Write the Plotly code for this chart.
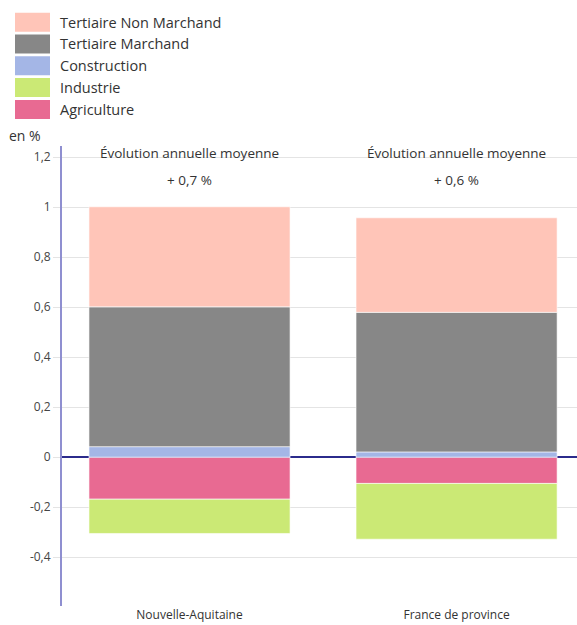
import plotly.graph_objects as go

# Contribution des secteurs à l'évolution annuelle moyenne de l'emploi (en %)
territoires = ["Nouvelle-Aquitaine", "France de province"]

# Ordre des traces : négatifs empilés depuis 0 (Agriculture puis Industrie),
# positifs empilés depuis 0 (Construction, Tertiaire Marchand, Tertiaire Non Marchand)
secteurs = ["Agriculture", "Industrie", "Construction", "Tertiaire Marchand", "Tertiaire Non Marchand"]
agriculture = [-0.168, -0.105]
industrie = [-0.137, -0.223]
construction = [0.042, 0.021]
tertiaire_marchand = [0.559, 0.558]
tertiaire_non_marchand = [0.400, 0.378]
couleurs = ["#e86a92", "#cbe975", "#a4b6e6", "#878787", "#ffc5b8"]

tick_vals = [-0.4, -0.2, 0, 0.2, 0.4, 0.6, 0.8, 1, 1.2]
tick_text = ["-0,4", "-0,2", "0", "0,2", "0,4", "0,6", "0,8", "1", "1,2"]

valeurs = [agriculture, industrie, construction, tertiaire_marchand, tertiaire_non_marchand]

FONT = "Open Sans"
TXT = "#333333"

fig = go.Figure()
for nom, vals, col in zip(secteurs, valeurs, couleurs):
    fig.add_trace(go.Bar(
        x=territoires, y=vals, name=nom,
        marker=dict(color=col, line=dict(color="rgba(255,255,255,0.6)", width=1)),
        showlegend=False,
    ))

# Évolution annuelle moyenne = somme des contributions
annotations = []
for i, terr in enumerate(territoires):
    total = sum(v[i] for v in valeurs)
    annotations.append(dict(x=terr, y=1.218, xref="x", yref="y", text="Évolution annuelle moyenne",
                            showarrow=False, font=dict(family=FONT, size=13.5, color=TXT)))
    annotations.append(dict(x=terr, y=1.11, xref="x", yref="y",
                            text="+ " + f"{total:.1f}".replace(".", ",") + " %",
                            showarrow=False, font=dict(family=FONT, size=13.5, color=TXT)))

# Légende dessinée à la main (grands carrés de couleur), dans la marge haute
L, R, T, B = 62, 577, 146, 606
def px(xp):
    return (xp - L) / (R - L)
def py(yp):
    return (B - yp) / (B - T)

shapes = []
ordre_legende = list(range(len(secteurs)))[::-1]
for k, idx in enumerate(ordre_legende):
    top = 12.7 + k * 21.8
    shapes.append(dict(type="rect", xref="paper", yref="paper",
                       x0=px(15), x1=px(50), y0=py(top + 19), y1=py(top),
                       fillcolor=couleurs[idx], line=dict(width=0)))
    annotations.append(dict(xref="paper", yref="paper", x=px(58), y=py(top + 9.5),
                            xanchor="left", yanchor="middle", text=secteurs[idx], showarrow=False,
                            font=dict(family=FONT, size=14.5, color=TXT)))

annotations.append(dict(xref="paper", yref="paper", x=px(7), y=py(135), xanchor="left",
                        yanchor="middle", text="en %", showarrow=False,
                        font=dict(family=FONT, size=14, color=TXT)))

fig.update_layout(
    width=577, height=625,
    margin=dict(l=L, r=577 - R, t=T, b=625 - B),
    barmode="relative", bargap=0.247,
    plot_bgcolor="white", paper_bgcolor="white",
    font=dict(family=FONT, color=TXT),
    shapes=shapes, annotations=annotations,
    xaxis=dict(range=[-0.4775, 1.451], showgrid=False, showline=False, ticks="",
               tickfont=dict(family=FONT, size=12, color=TXT)),
    yaxis=dict(range=[-0.595, 1.244], tickvals=tick_vals, ticktext=tick_text,
               showgrid=True, gridcolor="#e4e4e4", gridwidth=1,
               ticks="outside", ticklen=7, tickcolor="#e4e4e4",
               showline=True, linecolor="#8f8fd0", linewidth=2,
               zeroline=True, zerolinecolor="#2b2b8c", zerolinewidth=1.5,
               tickfont=dict(family=FONT, size=12, color="#444444")),
)

fig.write_html("out.html")
